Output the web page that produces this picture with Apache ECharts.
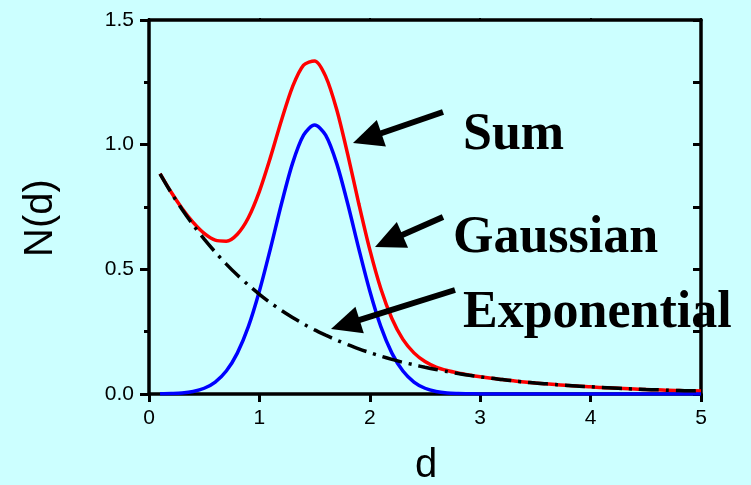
<!DOCTYPE html>
<html>
<head>
<meta charset="utf-8">
<script src="https://cdn.jsdelivr.net/npm/echarts@6/dist/echarts.min.js"></script>
<style>
  html, body {margin: 0; padding: 0; background: #ccffff;}
  #main {width: 751px; height: 485px;}
</style>
</head>
<body>
<div id="main"></div>
<script>
  // d values and the three curves
  var dValues = [
    0.1, 0.2, 0.3, 0.4, 0.5, 0.6, 0.7, 0.8, 0.9, 1.0,
    1.1, 1.2, 1.3, 1.4, 1.5, 1.6, 1.7, 1.8, 1.9, 2.0,
    2.1, 2.2, 2.3, 2.4, 2.5, 2.6, 2.7, 2.8, 2.9, 3.0,
    3.1, 3.2, 3.3, 3.4, 3.5, 3.6, 3.7, 3.8, 3.9, 4.0,
    4.1, 4.2, 4.3, 4.4, 4.5, 4.6, 4.7, 4.8, 4.9, 5.0
  ];
  var sumValues = [
    0.884, 0.810, 0.744, 0.688, 0.644, 0.617, 0.613, 0.641, 0.707, 0.813,
    0.949, 1.098, 1.232, 1.319, 1.336, 1.274, 1.141, 0.961, 0.764, 0.579,
    0.422, 0.303, 0.219, 0.165, 0.130, 0.108, 0.094, 0.084, 0.076, 0.069,
    0.063, 0.058, 0.053, 0.048, 0.044, 0.041, 0.037, 0.034, 0.031, 0.029,
    0.026, 0.024, 0.022, 0.020, 0.018, 0.017, 0.015, 0.014, 0.013, 0.012
  ];
  var gaussValues = [
    0.001, 0.002, 0.004, 0.010, 0.023, 0.048, 0.092, 0.164, 0.270, 0.413,
    0.583, 0.763, 0.925, 1.038, 1.079, 1.038, 0.925, 0.763, 0.583, 0.413,
    0.270, 0.164, 0.092, 0.048, 0.023, 0.010, 0.004, 0.002, 0.001, 0,
    0, 0, 0, 0, 0, 0, 0, 0, 0, 0,
    0, 0, 0, 0, 0, 0, 0, 0, 0, 0
  ];
  var expValues = [
    0.883, 0.808, 0.740, 0.678, 0.621, 0.569, 0.521, 0.477, 0.437, 0.400,
    0.366, 0.335, 0.307, 0.281, 0.257, 0.236, 0.216, 0.198, 0.181, 0.166,
    0.152, 0.139, 0.127, 0.117, 0.107, 0.098, 0.090, 0.082, 0.075, 0.069,
    0.063, 0.058, 0.053, 0.048, 0.044, 0.041, 0.037, 0.034, 0.031, 0.029,
    0.026, 0.024, 0.022, 0.020, 0.018, 0.017, 0.015, 0.014, 0.013, 0.012
  ];
  var xTickLabels = ['0', '1', '2', '3', '4', '5'];
  var yTickLabels = ['0.0', '0.5', '1.0', '1.5'];

  function pairs(ys) {
    return dValues.map(function (d, i) { return [d, ys[i]]; });
  }

  // arrow: tail -> tip, drawn as shaft + triangle head
  function arrow(x1, y1, x2, y2) {
    var dx = x2 - x1, dy = y2 - y1;
    var len = Math.sqrt(dx * dx + dy * dy);
    var ux = dx / len, uy = dy / len;
    var headLen = 30, headHalf = 14;
    var bx = x2 - ux * headLen, by = y2 - uy * headLen;
    return [
      {
        type: 'line', z: 100,
        shape: {x1: x1, y1: y1, x2: bx + ux * 4, y2: by + uy * 4},
        style: {stroke: '#000', lineWidth: 6}
      },
      {
        type: 'polygon', z: 100,
        shape: {points: [[x2, y2], [bx - uy * headHalf, by + ux * headHalf], [bx + uy * headHalf, by - ux * headHalf]]},
        style: {fill: '#000'}
      }
    ];
  }

  var labelFont = 'bold 52px "Liberation Serif", "Times New Roman", serif';
  var graphics = []
    .concat(arrow(443, 112, 353, 143))
    .concat(arrow(443, 217, 375, 247))
    .concat(arrow(455, 290, 331, 329))
    .concat([
      {type: 'text', z: 100, left: 463, top: 110, style: {text: 'Sum', font: labelFont, fill: '#000'}},
      {type: 'text', z: 100, left: 453, top: 213, style: {text: 'Gaussian', font: labelFont, fill: '#000'}},
      {type: 'text', z: 100, left: 463, top: 288, style: {text: 'Exponential', font: labelFont, fill: '#000'}},
      {
        type: 'text', z: 100, x: 41, y: 218, rotation: Math.PI / 2,
        style: {text: 'N(d)', font: '40px "Liberation Sans", Arial, sans-serif', fill: '#000', align: 'center', verticalAlign: 'middle'}
      },
      {
        type: 'text', z: 100, x: 426, y: 466,
        style: {text: 'd', font: '40px "Liberation Sans", Arial, sans-serif', fill: '#000', align: 'center', verticalAlign: 'middle'}
      }
    ]);

  function frameLine() {
    return {show: true, onZero: false, lineStyle: {color: '#000', width: 3.5}};
  }
  function tickStyle(len, inside) {
    return {show: true, inside: inside, length: len, lineStyle: {color: '#000', width: 3}};
  }

  var chart = echarts.init(document.getElementById('main'));
  var option = {
    backgroundColor: '#ccffff',
    animation: false,
    grid: {left: 149, right: 50, top: 20, bottom: 91},
    xAxis: [
      {
        type: 'value', min: 0, max: 5, interval: 1, position: 'bottom',
        axisLine: frameLine(),
        axisTick: tickStyle(8, false),
        axisLabel: {
          margin: 14, color: '#000', fontSize: 21, fontFamily: '"Liberation Sans", Arial, sans-serif',
          formatter: function (v) { return xTickLabels[Math.round(v)]; }
        },
        splitLine: {show: false}
      },
      {
        type: 'value', min: 0, max: 5, interval: 1, position: 'top',
        axisLine: frameLine(),
        axisTick: {show: true, inside: false, length: 2, lineStyle: {color: '#000', width: 2}},
        axisLabel: {show: false},
        splitLine: {show: false}
      }
    ],
    yAxis: [
      {
        type: 'value', min: 0, max: 1.5, interval: 0.5, position: 'left',
        axisLine: frameLine(),
        axisTick: tickStyle(9, false),
        minorTick: {show: true, splitNumber: 2, length: 5, lineStyle: {color: '#000', width: 3}},
        axisLabel: {
          margin: 15, color: '#000', fontSize: 21, fontFamily: '"Liberation Sans", Arial, sans-serif',
          formatter: function (v) { return yTickLabels[Math.round(v / 0.5)]; }
        },
        splitLine: {show: false}
      },
      {
        type: 'value', min: 0, max: 1.5, interval: 0.25, position: 'right',
        axisLine: frameLine(),
        axisTick: tickStyle(8, true),
        axisLabel: {show: false},
        splitLine: {show: false}
      }
    ],
    series: [
      {
        name: 'Sum', type: 'line', data: pairs(sumValues),
        smooth: 0.3, showSymbol: false, symbol: 'none',
        lineStyle: {color: '#ff0000', width: 3.5}, z: 3
      },
      {
        name: 'Gaussian', type: 'line', data: pairs(gaussValues),
        smooth: 0.3, showSymbol: false, symbol: 'none',
        lineStyle: {color: '#0000ff', width: 3.5}, z: 4
      },
      {
        name: 'Exponential', type: 'line', data: pairs(expValues),
        smooth: 0.3, showSymbol: false, symbol: 'none',
        lineStyle: {color: '#000', width: 3.5, type: [20, 7, 3, 7]}, z: 5
      }
    ],
    graphic: graphics
  };
  chart.setOption(option);
</script>
</body>
</html>
